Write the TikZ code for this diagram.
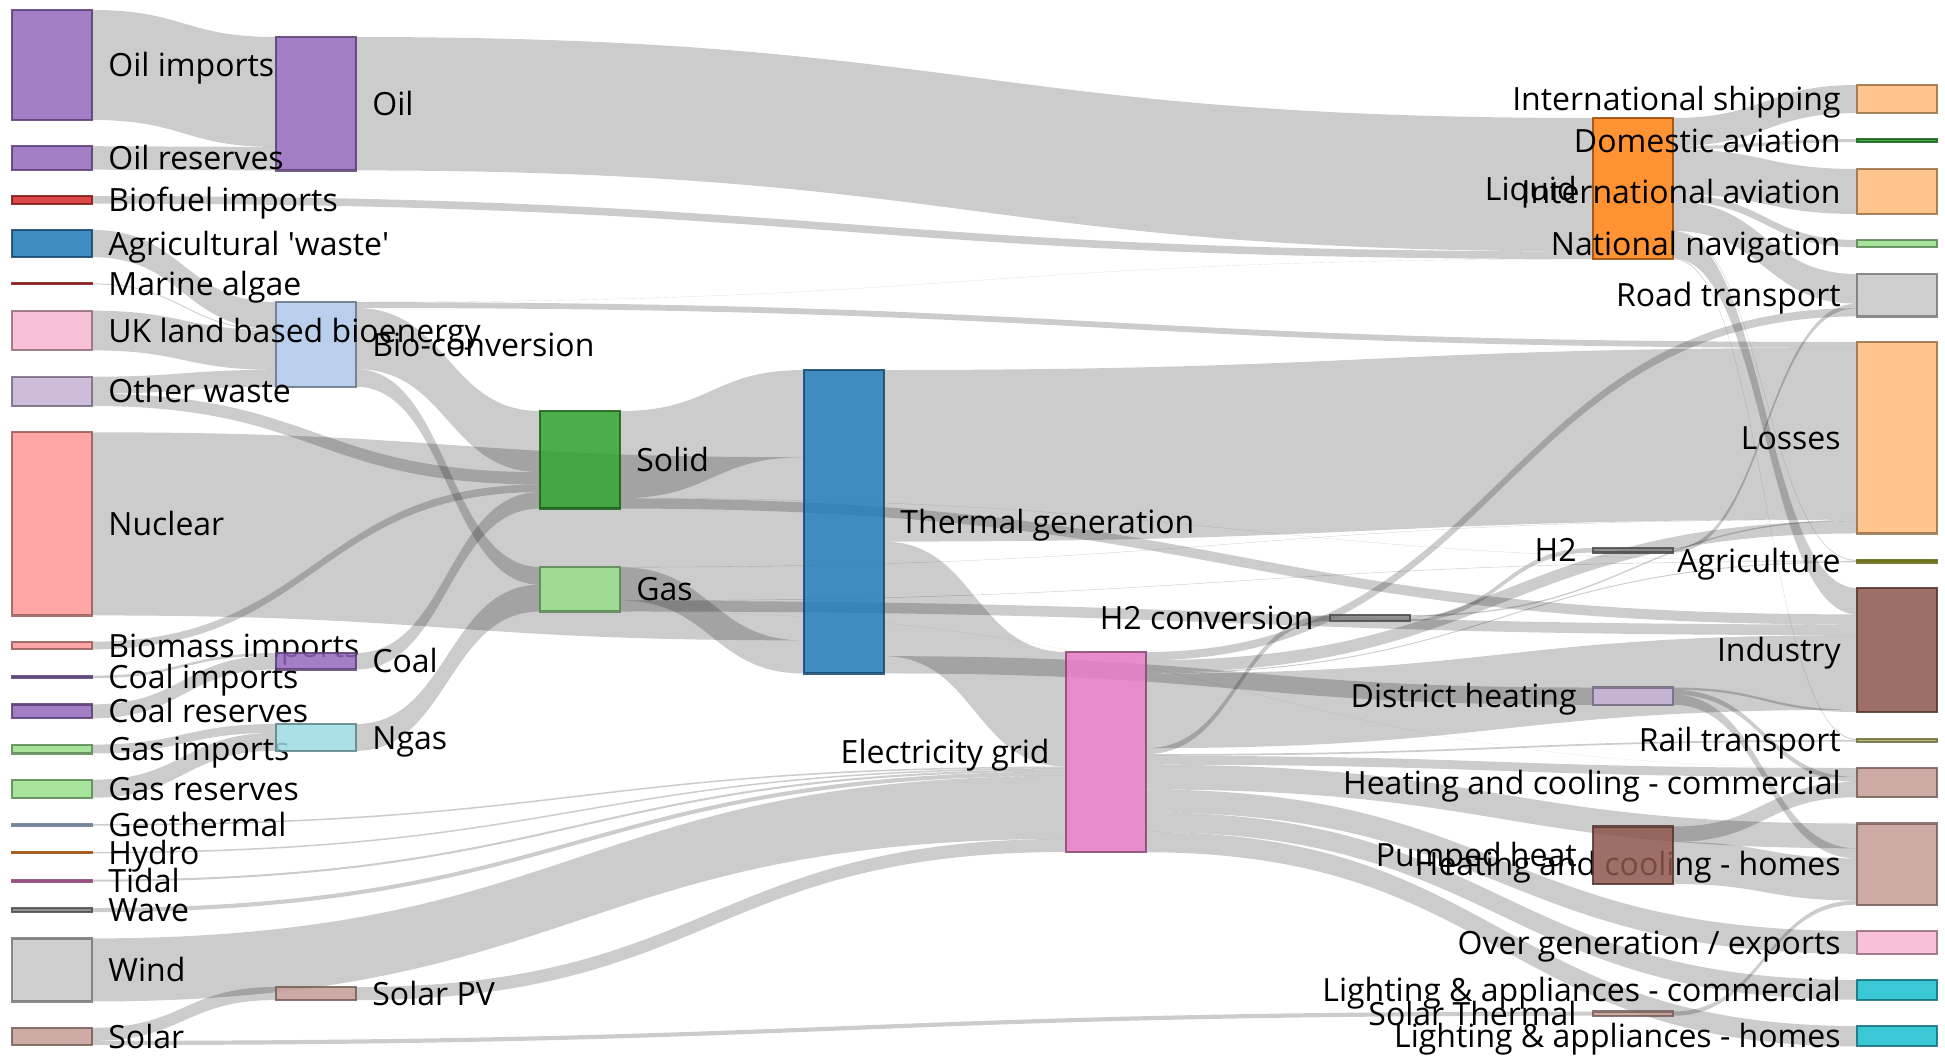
\documentclass[tikz,border=0pt]{standalone}
\usepackage{fontspec}
\setmainfont{Open Sans}
\usetikzlibrary{calc}
\pgfdeclarelayer{links}
\pgfsetlayers{links,main}

\definecolor{tabblue}{HTML}{1F77B4}
\definecolor{tablblue}{HTML}{AEC7E8}
\definecolor{taborange}{HTML}{FF7F0E}
\definecolor{tablorange}{HTML}{FFBB78}
\definecolor{tabgreen}{HTML}{2CA02C}
\definecolor{tablgreen}{HTML}{98DF8A}
\definecolor{tabred}{HTML}{D62728}
\definecolor{tablred}{HTML}{FF9896}
\definecolor{tabpurple}{HTML}{9467BD}
\definecolor{tablpurple}{HTML}{C5B0D5}
\definecolor{tabbrown}{HTML}{8C564B}
\definecolor{tablbrown}{HTML}{C49C94}
\definecolor{tabpink}{HTML}{E377C2}
\definecolor{tablpink}{HTML}{F7B6D2}
\definecolor{tabgray}{HTML}{7F7F7F}
\definecolor{tablgray}{HTML}{C7C7C7}
\definecolor{tabolive}{HTML}{A5A61E}
\definecolor{tablolive}{HTML}{B5B56A}
\definecolor{tabcyan}{HTML}{17BECF}
\definecolor{tablcyan}{HTML}{9EDAE5}

% px per TWh
\newcommand\twh{0.218}
% source, source offset, target, target offset, value (all TWh)
\newcommand\flowband[5]{%
  \fill[link] let \p1=($(#1.north east)+(0,{(#2)*\twh})$),
                  \p2=($(#3.north west)+(0,{(#4)*\twh})$),
                  \n1={0.5*(\x2-\x1)} in
    (\p1) .. controls +(\n1,0pt) and +(-\n1,0pt) .. (\p2)
    -- ++(0,{(#5)*\twh})
    .. controls +(-\n1,0pt) and +(\n1,0pt) .. ($(\p1)+(0,{(#5)*\twh})$) -- cycle;}

\begin{document}
\begin{tikzpicture}[x=0.5pt,y=-0.5pt,
    box/.style={draw, line width=1.1pt, inner sep=0pt, outer sep=0pt,
      anchor=north west, minimum width=40pt, minimum height={#1*\twh*0.5pt}},
    nc/.style={fill=#1, fill opacity=0.85, draw=#1!60!black, draw opacity=0.85},
    link/.style={fill=black, fill opacity=0.2},
    every label/.style={font=\fontsize{16}{19}\selectfont, inner sep=2pt,
      text height=0.72em, text depth=0pt, text=black, text opacity=1, yshift=-2.2pt},
    label distance=6pt]
  \useasboundingbox (0,0) rectangle (1945,1056);

  % columns at x = 12, 276, 540, 804, 1066, 1330, 1593, 1857
  \node[box=124.729, nc=tabblue, label={right:Agricultural \textquotesingle waste\textquotesingle}] (agri) at (12,229.9) {};
  \node[box=388.925, nc=tablblue, label=right:Bio-conversion] (bioconv) at (276,302) {};
  \node[box=647.587, nc=taborange, label=left:Liquid] (liquid) at (1593,118) {};
  \node[box=878.325, nc=tablorange, label=left:Losses] (losses) at (1857,342) {};
  \node[box=447.48, nc=tabgreen, label=right:Solid] (solid) at (540,411) {};
  \node[box=204.097, nc=tablgreen, label=right:Gas] (gas) at (540,567) {};
  \node[box=35, nc=tabred, label=right:Biofuel imports] (biofuel) at (12,196) {};
  \node[box=35, nc=tablred, label=right:Biomass imports] (biomass) at (12,641.7) {};
  \node[box=11.606, nc=tabpurple, label=right:Coal imports] (coalimp) at (12,675.6) {};
  \node[box=75.571, nc=tabpurple, label=right:Coal] (coal) at (276,653) {};
  \node[box=63.965, nc=tabpurple, label=right:Coal reserves] (coalres) at (12,704.4) {};
  \node[box=79.329, nc=tablpurple, label=left:District heating] (district) at (1593,687.5) {};
  \node[box=568.927, nc=tabbrown, label=left:Industry] (industry) at (1857,588) {};
  \node[box=134.164, nc=tablbrown, label=left:Heating and cooling - commercial] (hccom) at (1857,768) {};
  \node[box=372.199, nc=tablbrown, label=left:Heating and cooling - homes] (hchome) at (1857,823.5) {};
  \node[box=918.607, nc=tabpink, label=left:Electricity grid] (grid) at (1066,652) {};
  \node[box=104.453, nc=tablpink, label=left:Over generation / exports] (overgen) at (1857,931) {};
  \node[box=27.14, nc=tabgray, label=left:H2 conversion] (htwoconv) at (1330,615) {};
  \node[box=194.529, nc=tablgray, label=left:Road transport] (road) at (1857,274) {};
  \node[box=11.03, nc=tabolive, label=left:Agriculture] (agric) at (1857,560) {};
  \node[box=12.276, nc=tablolive, label=left:Rail transport] (rail) at (1857,739) {};
  \node[box=90.008, nc=tabcyan, label={left:Lighting \& appliances - commercial}] (lacom) at (1857,980) {};
  \node[box=93.494, nc=tabcyan, label={left:Lighting \& appliances - homes}] (lahome) at (1857,1026) {};
  \node[box=40.719, nc=tablgreen, label=right:Gas imports] (gasimp) at (12,744.6) {};
  \node[box=122.952, nc=tablcyan, label=right:Ngas] (ngas) at (276,724) {};
  \node[box=82.233, nc=tablgreen, label=right:Gas reserves] (gasres) at (12,779.8) {};
  \node[box=1391.989, nc=tabblue, label=right:Thermal generation] (thermal) at (804,370) {};
  \node[box=7.013, nc=tablblue, label=right:Geothermal] (geo) at (12,824) {};
  \node[box=20.897, nc=tabgray, label=left:H2] (htwo) at (1593,548) {};
  \node[box=6.995, nc=taborange, label=right:Hydro] (hydro) at (12,851.8) {};
  \node[box=128.69, nc=tablorange, label=left:International shipping] (intship) at (1857,85) {};
  \node[box=14.458, nc=tabgreen, label=left:Domestic aviation] (domav) at (1857,139) {};
  \node[box=206.267, nc=tablorange, label=left:International aviation] (intav) at (1857,169) {};
  \node[box=33.218, nc=tablgreen, label=left:National navigation] (natnav) at (1857,240) {};
  \node[box=4.375, nc=tabred, label=right:Marine algae] (algae) at (12,283.4) {};
  \node[box=839.978, nc=tablred, label=right:Nuclear] (nuclear) at (12,432.3) {};
  \node[box=504.287, nc=tabpurple, label=right:Oil imports] (oilimp) at (12,10) {};
  \node[box=611.99, nc=tabpurple, label=right:Oil] (oil) at (276,37) {};
  \node[box=107.703, nc=tabpurple, label=right:Oil reserves] (oilres) at (12,146.2) {};
  \node[box=134.397, nc=tablpurple, label=right:Other waste] (otherw) at (12,376.7) {};
  \node[box=263.698, nc=tabbrown, label=left:Pumped heat] (pumped) at (1593,826.5) {};
  \node[box=59.901, nc=tablbrown, label=right:Solar PV] (solarpv) at (276,987) {};
  \node[box=19.263, nc=tablbrown, label=left:Solar Thermal] (solarth) at (1593,1011.5) {};
  \node[box=79.164, nc=tablbrown, label=right:Solar] (solar) at (12,1027.8) {};
  \node[box=9.452, nc=tabpink, label=right:Tidal] (tidal) at (12,879.6) {};
  \node[box=182.01, nc=tablpink, label=right:UK land based bioenergy] (ukland) at (12,310.7) {};
  \node[box=19.013, nc=tabgray, label=right:Wave] (wave) at (12,908) {};
  \node[box=289.366, nc=tablgray, label=right:Wind] (wind) at (12,938.4) {};

  \begin{pgfonlayer}{links}
    \flowband{oilimp}{0}{oil}{0}{504.287}
    \flowband{oilres}{0}{oil}{504.287}{107.703}
    \flowband{oil}{0}{liquid}{0}{611.99}
    \flowband{biofuel}{0}{liquid}{611.99}{35}
    \flowband{bioconv}{0}{liquid}{646.99}{0.597}
    \flowband{agri}{0}{bioconv}{0}{124.729}
    \flowband{algae}{0}{bioconv}{124.729}{4.375}
    \flowband{ukland}{0}{bioconv}{129.104}{182.01}
    \flowband{otherw}{0}{bioconv}{311.114}{77.81}
    \flowband{otherw}{77.81}{solid}{280.322}{56.587}
    \flowband{bioconv}{0.597}{losses}{0}{26.862}
    \flowband{bioconv}{27.459}{solid}{0}{280.322}
    \flowband{bioconv}{307.781}{gas}{0}{81.144}
    \flowband{biomass}{0}{solid}{336.909}{35}
    \flowband{coalimp}{0}{coal}{0}{11.606}
    \flowband{coalres}{0}{coal}{11.606}{63.965}
    \flowband{coal}{0}{solid}{371.909}{75.571}
    \flowband{gasimp}{0}{ngas}{0}{40.719}
    \flowband{gasres}{0}{ngas}{40.719}{82.233}
    \flowband{ngas}{0}{gas}{81.144}{122.952}
    \flowband{solid}{0}{thermal}{0}{400.12}
    \flowband{solid}{400.12}{agric}{3.64}{0.882}
    \flowband{solid}{401.002}{industry}{121.066}{46.477}
    \flowband{nuclear}{0}{thermal}{400.12}{839.978}
    \flowband{gas}{0}{losses}{813.991}{1.401}
    \flowband{gas}{1.401}{thermal}{1240.098}{151.891}
    \flowband{gas}{153.292}{agric}{4.522}{2.096}
    \flowband{gas}{155.388}{industry}{167.543}{48.58}
    \flowband{gas}{203.968}{hccom}{0}{0.129}
    \flowband{thermal}{0}{losses}{26.862}{787.129}
    \flowband{thermal}{787.129}{grid}{0}{525.531}
    \flowband{thermal}{1312.66}{district}{0}{79.329}
    \flowband{geo}{0}{grid}{525.531}{7.013}
    \flowband{hydro}{0}{grid}{532.544}{6.995}
    \flowband{tidal}{0}{grid}{539.539}{9.452}
    \flowband{wave}{0}{grid}{548.991}{19.013}
    \flowband{wind}{0}{grid}{568.004}{289.366}
    \flowband{solarpv}{0}{grid}{857.37}{59.901}
    \flowband{solar}{0}{solarpv}{0}{59.901}
    \flowband{solar}{59.901}{solarth}{0}{19.263}
    \flowband{grid}{0}{road}{156.732}{37.797}
    \flowband{grid}{37.797}{losses}{821.634}{56.691}
    \flowband{grid}{94.488}{agric}{6.618}{4.412}
    \flowband{grid}{98.9}{industry}{216.123}{342.165}
    \flowband{grid}{441.065}{htwoconv}{0}{27.14}
    \flowband{grid}{468.205}{rail}{4.413}{7.863}
    \flowband{grid}{476.068}{hccom}{0.129}{40.858}
    \flowband{grid}{516.926}{hchome}{0}{113.726}
    \flowband{grid}{630.652}{overgen}{0}{104.453}
    \flowband{grid}{735.105}{lacom}{0}{90.008}
    \flowband{grid}{825.113}{lahome}{0}{93.494}
    \flowband{htwoconv}{0}{losses}{815.392}{6.242}
    \flowband{htwoconv}{6.242}{htwo}{0}{20.897}
    \flowband{htwo}{0}{road}{135.835}{20.897}
    \flowband{liquid}{0}{intship}{0}{128.69}
    \flowband{liquid}{128.69}{domav}{0}{14.458}
    \flowband{liquid}{143.148}{intav}{0}{206.267}
    \flowband{liquid}{349.415}{natnav}{0}{33.218}
    \flowband{liquid}{382.633}{road}{0}{135.835}
    \flowband{liquid}{518.468}{agric}{0}{3.64}
    \flowband{liquid}{522.108}{industry}{0}{121.066}
    \flowband{liquid}{643.174}{rail}{0}{4.413}
    \flowband{district}{0}{industry}{558.288}{10.639}
    \flowband{district}{10.639}{hccom}{40.987}{22.505}
    \flowband{district}{33.144}{hchome}{113.726}{46.184}
    \flowband{pumped}{0}{hccom}{63.492}{70.672}
    \flowband{pumped}{70.672}{hchome}{159.91}{193.026}
    \flowband{solarth}{0}{hchome}{352.936}{19.263}
  \end{pgfonlayer}
\end{tikzpicture}
\end{document}
